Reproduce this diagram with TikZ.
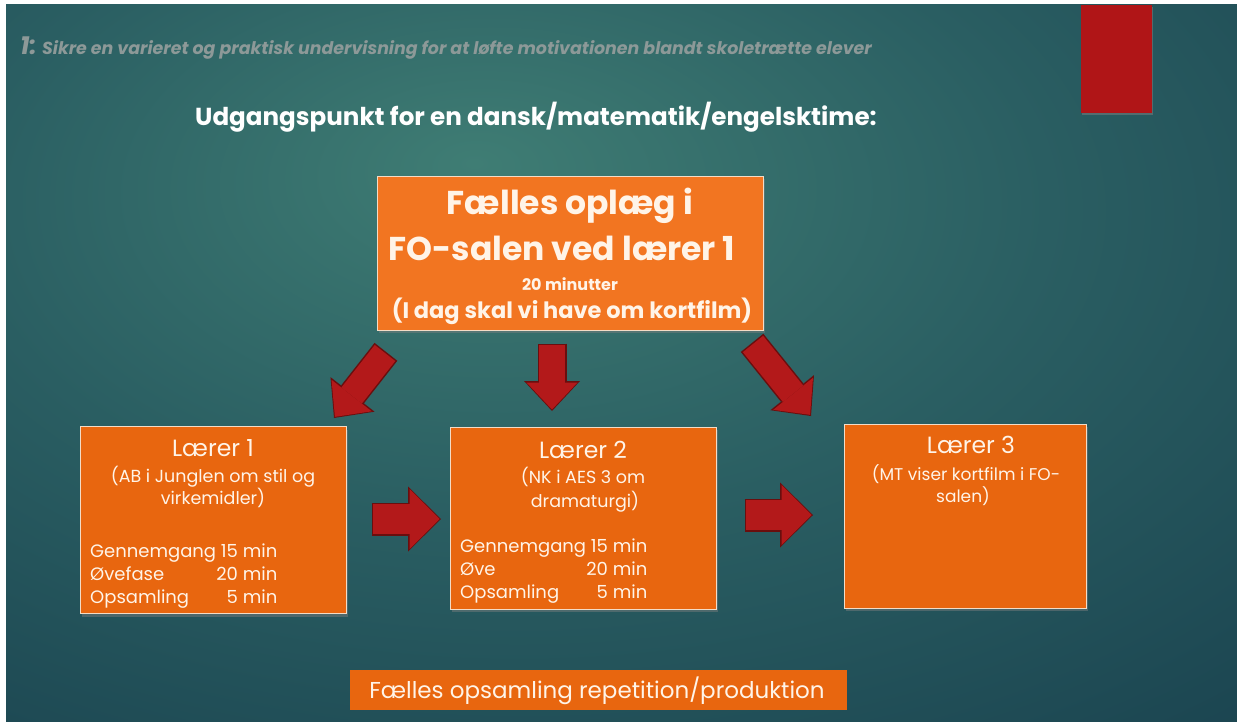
\documentclass[tikz,border=0pt]{standalone}
\usepackage{fontspec}
\setmainfont{Poppins}
\usetikzlibrary{positioning,arrows.meta,shadows}
\definecolor{slidelight}{HTML}{3F7D74}
\definecolor{slidemid}{HTML}{2A5E62}
\definecolor{slidedark}{HTML}{173E4C}
\definecolor{boxorange}{HTML}{E8660F}
\definecolor{toporange}{HTML}{F27521}
\definecolor{boxedge}{HTML}{F3DCC6}
\definecolor{boxtext}{HTML}{FFF4E8}
\definecolor{arrowred}{HTML}{B3191A}
\definecolor{arrowdark}{HTML}{6A0E0E}
\definecolor{barred}{HTML}{B01517}
\definecolor{subgray}{HTML}{8D9998}
\pgfdeclareradialshading{slideglow}{\pgfpoint{-6bp}{14bp}}{color(0bp)=(slidelight); color(22bp)=(slidemid); color(50bp)=(slidedark); color(100bp)=(slidedark)}

\begin{document}
\begin{tikzpicture}[x=1pt, y=-1pt,
            card/.style ={rectangle, fill=boxorange, draw=boxedge, line width=0.8pt, inner sep=0pt,
            drop shadow={shadow xshift=2pt, shadow yshift=-3pt, opacity=0.45}},
            txt/.style ={text=boxtext, anchor=base, inner sep=0pt},
            blockarrow/.style ={arrowred, line width=26pt, shorten >=1.5pt,
            -{Triangle[width=51pt, length=27pt, line width=0pt]},
            preaction={draw=arrowdark, line width=29pt, shorten >=0pt, shorten <=-1.5pt,
            -{Triangle[width=56pt, length=30pt, line width=0pt]}}},
            widearrow/.style ={arrowred, line width=30pt, shorten >=1.5pt,
            -{Triangle[width=60pt, length=30pt, line width=0pt]},
            preaction={draw=arrowdark, line width=33pt, shorten >=0pt, shorten <=-1.5pt,
            -{Triangle[width=65pt, length=33pt, line width=0pt]}}}]

            \useasboundingbox (0,0) rectangle (1237,722);
            % baggrund
            \fill[white] (0,0) rectangle (1237,722);
            \shade[shading=slideglow] (6,5) rectangle (1237,722);
            \path[fill=barred, drop shadow={shadow xshift=1pt, shadow yshift=-2pt, opacity=0.5}] (1081,5) rectangle (1152,113);

            % overskrifter
            \node[anchor=base west, inner sep=0pt, text=subgray, font=\fontsize{17.4}{20}\selectfont\bfseries\itshape] (emne) at (20,55)
                {{\fontsize{25}{27}\selectfont 1:} Sikre en varieret og praktisk undervisning for at løfte motivationen blandt skoletrætte elever};
            \node[anchor=base west, inner sep=0pt, text=white, font=\fontsize{24.6}{28}\selectfont\bfseries] (titel) at (195,126)
                {Udgangspunkt for en dansk/matematik/engelsktime:};

            %\node [stil] (navn) at (x,y) {};
            \node[card, fill=toporange, minimum width=386pt, minimum height=154pt] (oplaeg) at (570,253) {};
            \node[card, minimum width=266pt, minimum height=187pt] (laerer1) at (213,520) {};
            \node[card, minimum width=266pt, minimum height=182pt] (laerer2) at (583,518) {};
            \node[card, minimum width=242pt, minimum height=184pt] (laerer3) at (965,516) {};
            \node[rectangle, fill=boxorange, minimum width=497pt, minimum height=40pt, inner sep=0pt] (opsamling) at (598,690) {};

            % tekst i kasserne
            \node[txt, font=\fontsize{33}{38}\selectfont\bfseries] (oplaegA) at (570,215) {Fælles oplæg i};
            \node[txt, font=\fontsize{33}{38}\selectfont\bfseries] (oplaegB) at (562,260) {FO-salen ved lærer 1};
            \node[txt, font=\fontsize{16}{19}\selectfont\bfseries] (oplaegC) at (570,290) {20 minutter};
            \node[txt, font=\fontsize{22.5}{26}\selectfont\bfseries] (oplaegD) at (572,318) {(I dag skal vi have om kortfilm)};

            \node[txt, font=\fontsize{23.5}{27}\selectfont] (laerer1A) at (213,456) {Lærer 1};
            \node[txt, font=\fontsize{17.5}{20}\selectfont] (laerer1B) at (213,482) {(AB i Junglen om stil og};
            \node[txt, font=\fontsize{17.5}{20}\selectfont] (laerer1C) at (213,504) {virkemidler)};
            \node[txt, anchor=base west, font=\fontsize{18}{23}\selectfont] (laerer1D) at (90,557)
                {\begin{tabular}[t]{@{}l@{}r@{}}Gennemgang & \ 15 min\\ Øvefase & 20 min\\ Opsamling & 5 min\end{tabular}};

            \node[txt, font=\fontsize{23.5}{27}\selectfont] (laerer2A) at (583,458) {Lærer 2};
            \node[txt, font=\fontsize{17.5}{20}\selectfont] (laerer2B) at (583,483) {(NK i AES 3 om};
            \node[txt, font=\fontsize{17.5}{20}\selectfont] (laerer2C) at (585,507) {dramaturgi)};
            \node[txt, anchor=base west, font=\fontsize{18}{23}\selectfont] (laerer2D) at (460,552)
                {\begin{tabular}[t]{@{}l@{}r@{}}Gennemgang & \ 15 min\\ Øve & 20 min\\ Opsamling & 5 min\end{tabular}};

            \node[txt, font=\fontsize{23.5}{27}\selectfont] (laerer3A) at (971,453) {Lærer 3};
            \node[txt, font=\fontsize{17}{20}\selectfont] (laerer3B) at (966,480) {(MT viser kortfilm i FO-};
            \node[txt, font=\fontsize{17}{20}\selectfont] (laerer3C) at (963,502) {salen)};

            \node[txt, font=\fontsize{23}{27}\selectfont] (opsamlingA) at (597,698) {Fælles opsamling repetition/produktion};

            % pile
            \coordinate (pv1) at (385,353);  \coordinate (pv2) at (334,418);
            \coordinate (pm1) at (552,345);  \coordinate (pm2) at (552,411);
            \coordinate (ph1) at (753,344);  \coordinate (ph2) at (811,416);
            \coordinate (pa1) at (373,519);  \coordinate (pa2) at (441,519);
            \coordinate (pb1) at (746,515);  \coordinate (pb2) at (813,515);

            \draw[blockarrow] (pv1) -- (pv2);
            \draw[blockarrow] (pm1) -- (pm2);
            \draw[blockarrow] (ph1) -- (ph2);
            \draw[widearrow] (pa1) -- (pa2);
            \draw[widearrow] (pb1) -- (pb2);
\end{tikzpicture}
\end{document}
